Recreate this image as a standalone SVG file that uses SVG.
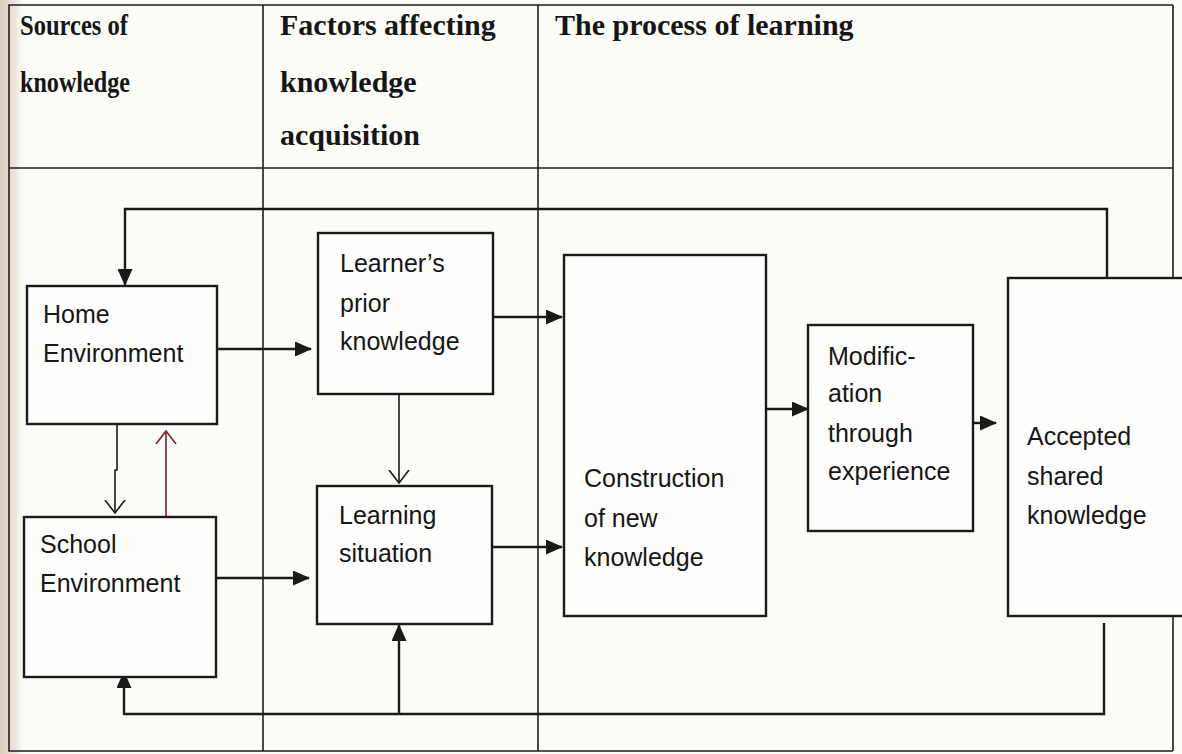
<svg xmlns="http://www.w3.org/2000/svg" width="1182" height="754" viewBox="0 0 1182 754">
  <defs>
    <linearGradient id="pageShade" x1="0" y1="0" x2="1" y2="0">
      <stop offset="0" stop-color="#d6cfbe"/>
      <stop offset="0.6" stop-color="#ebe6da"/>
      <stop offset="1" stop-color="#fbfbf8" stop-opacity="0"/>
    </linearGradient>
    <marker id="solid" viewBox="0 0 17 15" refX="16" refY="7.5" markerWidth="17" markerHeight="15" markerUnits="userSpaceOnUse" orient="auto">
      <path d="M0,0 L17,7.5 L0,15 Z" fill="#1a1a1a"/>
    </marker>
    <marker id="open" viewBox="0 0 14 22" refX="13" refY="11" markerWidth="14" markerHeight="22" markerUnits="userSpaceOnUse" orient="auto">
      <path d="M0,1 L13,11 L0,21" fill="none" stroke="#1a1a1a" stroke-width="1.6"/>
    </marker>
    <marker id="openRed" viewBox="0 0 14 22" refX="13" refY="11" markerWidth="14" markerHeight="22" markerUnits="userSpaceOnUse" orient="auto">
      <path d="M0,1 L13,11 L0,21" fill="none" stroke="#7a2424" stroke-width="1.6"/>
    </marker>
  </defs>
  <style>
    .grid { fill: none; stroke: #1e1e1e; stroke-width: 1.6; }
    .box { fill: #fdfdfb; stroke: #1a1a1a; stroke-width: 2.4; }
    .head { font-family: "Liberation Serif", "Times New Roman", serif; font-weight: bold; font-size: 30px; fill: #161616; }
    .lbl { font-family: "Liberation Sans", Arial, sans-serif; font-size: 25px; fill: #161616; }
    .wire { fill: none; stroke: #1a1a1a; stroke-width: 2.4; }
    .thin { fill: none; stroke: #1a1a1a; stroke-width: 1.6; }
  </style>

  <!-- page -->
  <rect x="0" y="0" width="1182" height="754" fill="#fbfbf8"/>
  <rect x="0" y="0" width="26" height="754" fill="url(#pageShade)"/>

  <!-- table frame -->
  <g id="table">
    <polyline class="grid" points="1173,5 9,5 9,751 1173,751"/>
    <line class="grid" x1="1173" y1="5" x2="1173" y2="751"/>
    <line class="grid" x1="9" y1="168" x2="1173" y2="168"/>
    <line class="grid" x1="263" y1="5" x2="263" y2="751"/>
    <line class="grid" x1="538" y1="5" x2="538" y2="751"/>
    <text class="head" x="20" y="35" textLength="108" lengthAdjust="spacingAndGlyphs">Sources of</text>
    <text class="head" x="20" y="92" textLength="110" lengthAdjust="spacingAndGlyphs">knowledge</text>
    <text class="head" x="280" y="35">Factors affecting</text>
    <text class="head" x="280" y="92">knowledge</text>
    <text class="head" x="280" y="145">acquisition</text>
    <text class="head" x="555" y="35">The process of learning</text>
  </g>

  <!-- connectors -->
  <g id="connectors">
    <!-- feedback from accepted knowledge back to the home -->
    <polyline class="wire" points="1107,278 1107,209 125,209 125,285" marker-end="url(#solid)"/>
    <!-- feedback from accepted knowledge to school and learning situation -->
    <polyline class="wire" points="1104,623 1104,714 124,714 124,672" marker-end="url(#solid)"/>
    <line class="wire" x1="399" y1="714" x2="399" y2="625" marker-end="url(#solid)"/>
    <!-- environments to factors -->
    <line class="wire" x1="217" y1="349" x2="311" y2="349" marker-end="url(#solid)"/>
    <line class="wire" x1="216" y1="578" x2="309" y2="578" marker-end="url(#solid)"/>
    <!-- factors to construction -->
    <line class="wire" x1="493" y1="317" x2="562" y2="317" marker-end="url(#solid)"/>
    <line class="wire" x1="492" y1="547" x2="562" y2="547" marker-end="url(#solid)"/>
    <!-- prior knowledge to learning situation -->
    <line class="thin" x1="399" y1="394" x2="399" y2="483" marker-end="url(#open)"/>
    <!-- home <-> school -->
    <polyline class="thin" points="117,424 117,470 115,470 115,513" marker-end="url(#open)"/>
    <line x1="166" y1="517" x2="166" y2="431" stroke="#7a2424" stroke-width="1.6" marker-end="url(#openRed)"/>
    <!-- process chain -->
    <line class="wire" x1="766" y1="409" x2="808" y2="409" marker-end="url(#solid)"/>
    <line class="wire" x1="973" y1="423" x2="996" y2="423" marker-end="url(#solid)"/>
  </g>

  <!-- nodes -->
  <g id="home">
    <rect class="box" x="27" y="286" width="190" height="138"/>
    <text class="lbl" x="43" y="323">Home</text>
    <text class="lbl" x="43" y="362">Environment</text>
  </g>
  <g id="school">
    <rect class="box" x="24" y="517" width="192" height="160"/>
    <text class="lbl" x="40" y="553">School</text>
    <text class="lbl" x="40" y="592">Environment</text>
  </g>
  <g id="prior">
    <rect class="box" x="318" y="233" width="175" height="161"/>
    <text class="lbl" x="340" y="272">Learner’s</text>
    <text class="lbl" x="340" y="312">prior</text>
    <text class="lbl" x="340" y="350">knowledge</text>
  </g>
  <g id="situation">
    <rect class="box" x="317" y="486" width="175" height="138"/>
    <text class="lbl" x="339" y="524">Learning</text>
    <text class="lbl" x="339" y="562">situation</text>
  </g>
  <g id="construction">
    <rect class="box" x="564" y="255" width="202" height="361"/>
    <text class="lbl" x="584" y="487">Construction</text>
    <text class="lbl" x="584" y="527">of new</text>
    <text class="lbl" x="584" y="566">knowledge</text>
  </g>
  <g id="modification">
    <rect class="box" x="808" y="325" width="165" height="206"/>
    <text class="lbl" x="828" y="365">Modific-</text>
    <text class="lbl" x="828" y="402">ation</text>
    <text class="lbl" x="828" y="442">through</text>
    <text class="lbl" x="828" y="480">experience</text>
  </g>
  <g id="accepted">
    <rect class="box" x="1008" y="278" width="190" height="338"/>
    <text class="lbl" x="1027" y="445">Accepted</text>
    <text class="lbl" x="1027" y="485">shared</text>
    <text class="lbl" x="1027" y="524">knowledge</text>
  </g>
</svg>
